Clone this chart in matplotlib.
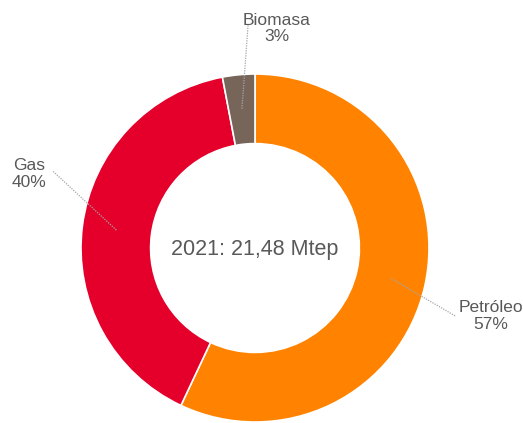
import numpy as np
import matplotlib.pyplot as plt

plt.rcParams['font.family'] = ['Liberation Sans', 'DejaVu Sans']

# Datos
fuentes = ['Petróleo', 'Gas', 'Biomasa']
porcentajes = [57, 40, 3]
colores = ['#FF8300', '#E4002B', '#776559']
total_texto = '2021: 21,48 Mtep'

gris = '#595959'

fig = plt.figure(figsize=(5.23, 4.23), dpi=100)
# centro del anillo en (255, 248) px, radio exterior 174 px
ax = fig.add_axes([(255 - 174) / 523, (423 - 248 - 174) / 423, 348 / 523, 348 / 423])

wedges, _ = ax.pie(porcentajes, colors=colores, startangle=90, counterclock=False,
                   radius=1.0, wedgeprops=dict(width=0.4, edgecolor='white', linewidth=1.2))
ax.set_xlim(-1, 1)
ax.set_ylim(-1, 1)
ax.set_aspect('equal')
ax.axis('off')

ax.text(0, -0.01, total_texto, ha='center', va='center', fontsize=15.5, color=gris)

# posiciones de etiquetas y extremos de las lineas guia
pos_texto = [(1.355, -0.39), (-1.30, 0.425), (0.125, 1.262)]
inicio_linea = [(1.15, -0.39), (-1.16, 0.44), (-0.04, 1.28)]

angulo = 90.0
for nombre, p, (tx, ty), (lx, ly) in zip(fuentes, porcentajes, pos_texto, inicio_linea):
    medio = np.deg2rad(angulo - p * 3.6 / 2)
    angulo -= p * 3.6
    mx, my = 0.8 * np.cos(medio), 0.8 * np.sin(medio)
    ax.plot([lx, mx], [ly, my], color='#A6A6A6', linestyle=(0, (1, 1)), linewidth=0.9,
            clip_on=False)
    ax.text(tx, ty, f'{nombre}\n{p}%', ha='center', va='center', fontsize=12.5,
            color=gris, linespacing=1.15, clip_on=False)

fig.savefig('out.png', dpi=100)
